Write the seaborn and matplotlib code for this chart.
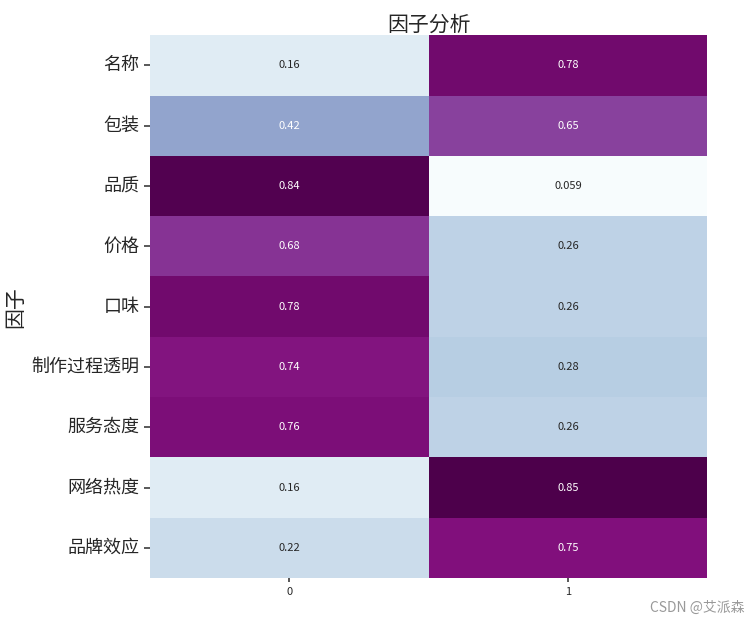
import matplotlib
matplotlib.use("Agg")
import matplotlib.pyplot as plt
import seaborn as sns
import pandas as pd
import numpy as np

factors = ["名称", "包装", "品质", "价格", "口味", "制作过程透明", "服务态度", "网络热度", "品牌效应"]
comp0 = [0.16, 0.42, 0.84, 0.68, 0.78, 0.74, 0.76, 0.16, 0.22]
comp1 = [0.78, 0.65, 0.059, 0.26, 0.26, 0.28, 0.26, 0.85, 0.75]
columns = [0, 1]

df = pd.DataFrame({columns[0]: comp0, columns[1]: comp1}, index=factors)

sns.set_theme(style="white")
plt.rcParams['font.family'] = ['Noto Sans CJK SC', 'DejaVu Sans']
plt.rcParams['axes.unicode_minus'] = False

fig = plt.figure(figsize=(7.5, 6.29), dpi=100)
ax = fig.add_axes([0.2, 0.081, 0.743, 0.863])
sns.heatmap(df, annot=True, cmap="BuPu", cbar=False, ax=ax,
            annot_kws={"fontsize": 8})
ax.set_title("因子分析", fontsize=15, pad=3, fontweight="medium")
ax.set_ylabel("因子", fontsize=15, fontweight="medium")
ax.tick_params(axis='y', labelsize=13, rotation=0, left=True, length=4, color="#444444")
ax.tick_params(axis='x', labelsize=8, bottom=True, length=3, color="#444444")
for lbl in ax.get_yticklabels():
    lbl.set_fontweight("medium")
fig.text(0.993, 0.022, "CSDN @艾派森", ha="right", va="bottom", fontsize=10, color="#999999")
fig.savefig("out.png", dpi=100)
